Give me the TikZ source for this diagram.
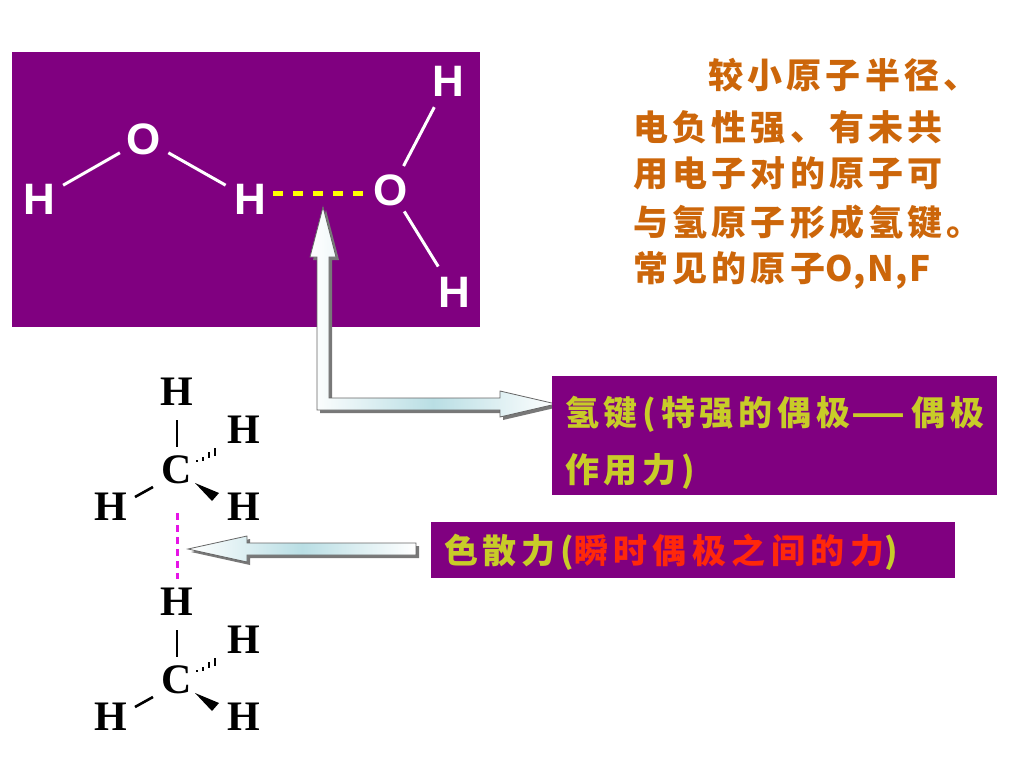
\documentclass[tikz,border=0pt]{standalone}
\usepackage{fontspec}
\setmainfont{Liberation Serif}
\newfontfamily\wsans{Liberation Sans}
\newfontfamily\cjk{Noto Sans CJK SC}[LetterSpace=12]
\newfontfamily\cjklab{Noto Sans CJK SC}[LetterSpace=14]
\newfontfamily\cjkwide{Noto Sans CJK SC}[LetterSpace=16]
\newfontfamily\cjkplain{Noto Sans CJK SC}[LetterSpace=4]
\usetikzlibrary{calc}
\definecolor{boxpurple}{RGB}{128,0,128}
\definecolor{notecol}{RGB}{204,102,10}
\definecolor{labelgreen}{RGB}{200,204,40}
\definecolor{labelred}{RGB}{255,40,10}
\definecolor{hbondyellow}{RGB}{255,255,0}
\definecolor{dispmag}{RGB}{230,20,230}
\definecolor{arrowcyan}{RGB}{185,222,228}
\definecolor{shadowgray}{RGB}{120,120,120}
\tikzset{
  watom/.style={text=white, inner sep=0pt, font=\wsans\bfseries\fontsize{44}{48}\selectfont},
  matom/.style={text=black, inner sep=0pt, font=\bfseries\fontsize{42}{46}\selectfont},
  wbond/.style={draw=white, line width=3pt},
  mbond/.style={draw=black, line width=2.6pt},
  hbondline/.style={draw=hbondyellow, line width=5pt, dash pattern=on 10pt off 10pt},
  displine/.style={draw=dispmag, line width=3pt, dash pattern=on 7pt off 5pt},
  notetext/.style={text=notecol, inner sep=0pt, anchor=base west, font=\cjk\bfseries\fontsize{35}{40}\selectfont},
  labeltext/.style={text=labelgreen, inner sep=0pt, anchor=base west, font=\cjklab\bfseries\fontsize{34}{40}\selectfont},
  blockarrow/.style={left color=white, right color=white, middle color=arrowcyan, draw=black!60, line width=0.8pt},
  arrowshadow/.style={fill=shadowgray},
}
\newcommand\drawmethane[2]{%
  \begin{scope}[shift={(0,#1)}]
    \node[matom] (c#2) at (177,470) {C};
    \node[matom] (ht#2) at (177,392) {H};
    \node[matom] (hur#2) at (244,430) {H};
    \node[matom] (hll#2) at (111,507) {H};
    \node[matom] (hlr#2) at (244,507) {H};
  \end{scope}
  \draw[mbond] ($(c#2)+(0,-50)$) -- ($(c#2)+(0,-23)$);
  \draw[mbond] ($(c#2)+(-42,27)$) -- ($(c#2)+(-24,17)$);
  \fill[black] ($(c#2)+(18,13)$) -- ($(c#2)+(35,31)$) -- ($(c#2)+(42,23)$) -- cycle;
  \begin{scope}[shift={(c#2)}]
    \draw[black, line width=2.4pt] (20,-10) -- (20,-8);
    \draw[black, line width=2.4pt] (26,-13) -- (26,-9);
    \draw[black, line width=2.4pt] (32,-18) -- (32,-12);
    \draw[black, line width=2.4pt] (38,-22) -- (38,-14);
  \end{scope}
}
\begin{document}
\begin{tikzpicture}[x=1pt,y=-1pt]
\useasboundingbox (0,0) rectangle (1024,768);
\fill[white] (0,0) rectangle (1024,768);

% water dimer box
\fill[boxpurple] (12,52) rectangle (480,327);
\node[watom] (hl) at (39,199) {H};
\node[watom] (o1) at (144,139) {O};
\node[watom] (hm) at (250,199) {H};
\node[watom] (o2) at (391,190) {O};
\node[watom] (ht) at (448,81) {H};
\node[watom] (hb) at (454,292) {H};
\draw[wbond] ($(hl)!0.23!(o1)$) -- ($(hl)!0.77!(o1)$);
\draw[wbond] ($(o1)!0.23!(hm)$) -- ($(o1)!0.77!(hm)$);
\draw[wbond] ($(o2)!0.22!(ht)$) -- ($(o2)!0.76!(ht)$);
\draw[wbond] ($(o2)!0.21!(hb)$) -- ($(o2)!0.75!(hb)$);
\draw[hbondline] ([xshift=7pt,yshift=6pt]hm.east) -- ([xshift=-9pt,yshift=-3pt]o2.west);

% bent arrow
\fill[arrowshadow, shift={(3,3)}] (323,207) -- (336,257) -- (329,257) -- (329,398) -- (500,398) -- (500,391) -- (556,404) -- (500,417) -- (500,410) -- (317,410) -- (317,257) -- (310,257) -- cycle;
\shadedraw[blockarrow] (323,207) -- (336,257) -- (329,257) -- (329,398) -- (500,398) -- (500,391) -- (556,404) -- (500,417) -- (500,410) -- (317,410) -- (317,257) -- (310,257) -- cycle;

% dispersion arrow
\fill[arrowshadow, shift={(3,3)}] (188,549) -- (247,536) -- (247,543) -- (416,543) -- (416,555) -- (247,555) -- (247,562) -- cycle;
\shadedraw[blockarrow] (188,549) -- (247,536) -- (247,543) -- (416,543) -- (416,555) -- (247,555) -- (247,562) -- cycle;

% note text
\node[notetext] (n1) at (708,88) {较小原子半径、};
\node[notetext] (n2) at (633,140) {电负性强、有未共};
\node[notetext] (n3) at (633,186) {用电子对的原子可};
\node[notetext] (n4) at (633,235) {与氢原子形成氢键。};
\node[notetext] (n5) at (633,281) {常见的原子{\cjkplain\bfseries O,N,F}};

% hydrogen bond label
\fill[boxpurple] (552,376) rectangle (997,495);
\node[labeltext] (hb1) at (565,425) {氢键(特强的偶极\scalebox{1.8}[1]{—}\,偶极};
\node[labeltext] (hb2) at (565,482) {作用力)};

% dispersion label
\fill[boxpurple] (431,522) rectangle (955,578);
\node[labeltext] (disp) at (444,563) {色散力(\textcolor{labelred}{\cjkwide\bfseries 瞬时偶极之间的力})};

% methane pair
\drawmethane{0}{1}
\drawmethane{210}{2}
\draw[displine] ($(c1)+(0,43)$) -- ($(ht2)+(0,-23)$);
\end{tikzpicture}
\end{document}
